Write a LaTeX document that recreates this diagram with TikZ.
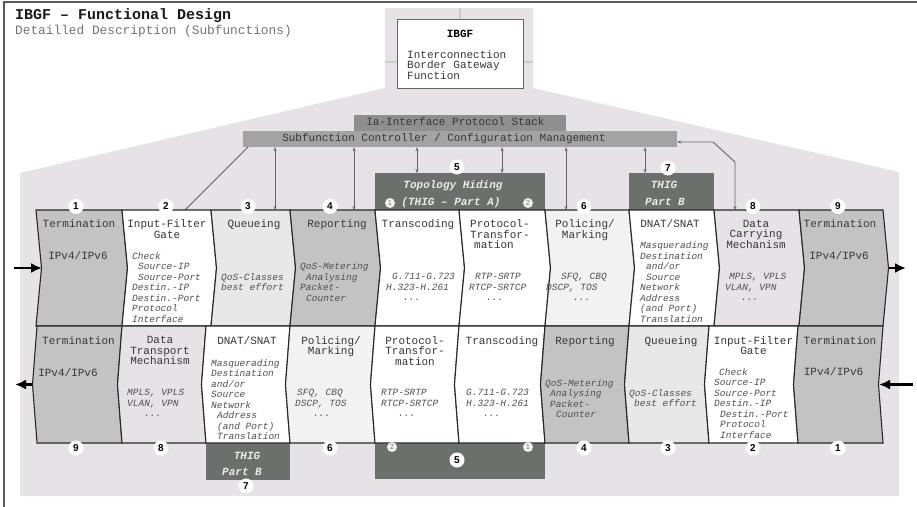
\documentclass[tikz,border=0pt]{standalone}
\usepackage{fontspec}
\setmainfont{Liberation Mono}
\newfontfamily\numf{Liberation Sans}
\usetikzlibrary{arrows.meta}
\definecolor{bgc}{RGB}{230,226,230}
\definecolor{crossc}{RGB}{205,201,205}
\definecolor{tgray}{RGB}{195,195,195}
\definecolor{qgray}{RGB}{232,232,232}
\definecolor{pgray}{RGB}{242,242,242}
\definecolor{thigc}{RGB}{108,112,108}
\definecolor{iac}{RGB}{143,143,143}
\definecolor{ctrlc}{RGB}{163,163,163}
\definecolor{linec}{RGB}{40,40,40}
\definecolor{connc}{RGB}{100,100,100}
\definecolor{txtc}{RGB}{55,55,55}
\definecolor{itcol}{RGB}{80,80,80}
\definecolor{framec}{RGB}{90,90,90}
\definecolor{boxc}{RGB}{100,100,100}
\begin{document}
\begin{tikzpicture}[x=1pt,y=-1pt,
  hd/.style={font=\fontsize{11}{10.5}\selectfont, text=txtc, align=center, inner sep=0pt, anchor=north},
  hdl/.style={hd, align=left, anchor=north west},
  itx/.style={font=\fontsize{9.5}{10.5}\selectfont\itshape, text=itcol, align=left, inner sep=0pt, anchor=north west},
  itcen/.style={itx, align=center, anchor=north},
  num/.style={circle, fill=white, inner sep=0pt, minimum size=15pt, font=\numf\bfseries\fontsize{10}{10}\selectfont},
  snum/.style={circle, fill=white!94!black, inner sep=0pt, minimum size=10pt, font=\numf\fontsize{7.5}{7.5}\selectfont, text=gray},
  thig/.style={fill=thigc, inner sep=0pt},
  thigt/.style={font=\fontsize{11}{11}\selectfont\bfseries\itshape, text=white!92!black, inner sep=0pt, anchor=base},
  conn/.style={draw=connc, line width=0.9pt},
  dconn/.style={conn, {Stealth[length=4pt,width=3pt]}-{Stealth[length=4pt,width=3pt]}},
  band/.style={draw=linec, line width=1.1pt, line join=miter},
  big/.style={line width=2.2pt, -{Latex[length=11pt,width=10pt]}},
  bartext/.style={font=\fontsize{11}{11}\selectfont, text=txtc, inner sep=0pt, anchor=base}
]
\useasboundingbox (0,0) rectangle (917,506);
% frame
\draw[framec, line width=1.3pt] (4,530) -- (4,2) -- (930,2);
% background region
\fill[bgc] (385,8) -- (533,8) -- (533,88) -- (899,172) -- (899,496) -- (20,496) -- (20,173) -- (385,88) -- cycle;
\draw[crossc, line width=2pt] (460,8) -- (460,88) (385,62) -- (533,62);
% title
\node[anchor=base west, inner sep=0pt, font=\fontsize{15}{15}\selectfont\bfseries, text=black!90] (title) at (15,19.5) {IBGF – Functional Design};
\node[anchor=base west, inner sep=0pt, font=\fontsize{12.8}{13}\selectfont, text=black!55] (subtitle) at (15,34) {Detailled Description (Subfunctions)};
% IBGF box
\node[draw=boxc, fill=white, line width=0.9pt, minimum width=126pt, minimum height=69pt, inner sep=0pt] (ibgf) at (460,53.5) {};
\node[anchor=base, inner sep=0pt, font=\fontsize{11}{11}\selectfont\bfseries] (ibgft) at (460,37) {IBGF};
\node[hdl] (ibgfd) at (407,50) {Interconnection\\Border Gateway\\Function};
% bars
\node[fill=iac, minimum width=212pt, minimum height=16pt, inner sep=0pt] (ia) at (460,123) {};
\node[bartext] (iat) at (455.5,125.7) {Ia-Interface Protocol Stack};
\node[fill=ctrlc, minimum width=434pt, minimum height=16pt, inner sep=0pt] (ctrl) at (460,139) {};
\node[bartext] (ctrlt) at (444,141) {Subfunction Controller / Configuration Management};
% THIG boxes
\node[thig, minimum width=170pt, minimum height=37pt] (thigA) at (460,191.5) {};
\node[thig, minimum width=85pt, minimum height=37pt] (thigB) at (671.5,191.5) {};
\node[thig, minimum width=84pt, minimum height=37pt] (thigBl) at (248,461.5) {};
\node[thig, minimum width=170pt, minimum height=36pt] (thigAl) at (460,461) {};
\node[thigt] (thA1) at (453,188.5) {Topology Hiding};
\node[thigt] (thA2) at (451,205) {(THIG – Part A)};
\node[thigt] (thB1) at (664,188.3) {THIG};
\node[thigt] (thB2) at (665,205) {Part B};
\node[thigt] (thBl1) at (247,459) {THIG};
\node[thigt] (thBl2) at (242,475) {Part B};
% connectors
\coordinate (c2s) at (248,147);
\coordinate (c2) at (185,210);
\coordinate (c3) at (275,210);
\coordinate (c4) at (354,210);
\coordinate (k1) at (417,173);
\coordinate (k2) at (502,173);
\coordinate (c6) at (566,210);
\coordinate (kB) at (645,173);
\coordinate (r1) at (713,142);
\coordinate (r2) at (735,162);
\coordinate (c8) at (735,210);
\draw[conn] (c2s) -- (c2);
\draw[dconn] (ctrl.south -| c3) -- (c3);
\draw[dconn] (ctrl.south -| c4) -- (c4);
\draw[dconn] (ctrl.south -| k1) -- (k1);
\draw[dconn] (ctrl.south -| k2) -- (k2);
\draw[dconn] (ctrl.south -| c6) -- (c6);
\draw[dconn] (ctrl.south -| kB) -- (kB);
\draw[dconn] (ctrl.east |- r1) -- (r1) -- (r2) -- (c8);
% upper row
\foreach \xl/\xr/\c in {36/122/tgray,122/211/white,211/290/qgray,290/375/tgray,375/459/white,459/545/white,545/629/pgray,629/714/white,714/799/bgc,799/883/tgray}
  \path[band, fill=\c] (\xl,210) -- ({\xl+5.5},268) -- (\xl,326) -- (\xr,326) -- ({\xr+5.5},268) -- (\xr,210) -- cycle;
% lower row
\foreach \xl/\xr/\c in {37/122/tgray,122/206/bgc,206/290/white,290/375/pgray,375/459/white,459/545/white,545/629/tgray,629/709/qgray,709/798/white,798/883/tgray}
  \path[band, fill=\c] (\xl,326) -- ({\xl-4.5},384.5) -- (\xl,443) -- (\xr,443) -- ({\xr-4.5},384.5) -- (\xr,326) -- cycle;
% in/out arrows
\coordinate (inU) at (14,268); \coordinate (inUe) at (42,268);
\coordinate (outU) at (889,268); \coordinate (outUe) at (906,268);
\coordinate (outL) at (32,384.5); \coordinate (outLe) at (15,384.5);
\coordinate (inL) at (913,384.5); \coordinate (inLe) at (879,384.5);
\draw[big] (inU) -- (inUe);
\draw[big] (outU) -- (outUe);
\draw[big] (outL) -- (outLe);
\draw[big] (inL) -- (inLe);
% upper headings
\node[hd] (uh1) at (79,219.5) {Termination};
\node[hd] (uv1) at (78,251.7) {IPv4/IPv6};
\node[hd] (uh2) at (167,219.5) {Input-Filter\\Gate};
\node[hd] (uh3) at (254,219.5) {Queueing};
\node[hd] (uh4) at (337,219.5) {Reporting};
\node[hd] (uh5) at (418,219.5) {Transcoding};
\node[hdl] (uh6) at (470,219.5) {Protocol-\\Transfor-\\\hspace*{4pt}mation};
\node[hd] (uh7) at (585,219.5) {Policing/\\Marking};
\node[hd] (uh8) at (670,219.5) {DNAT/SNAT};
\node[hd] (uh9) at (756,219.5) {Data\\Carrying\\Mechanism};
\node[hd] (uh10) at (840,219.5) {Termination};
\node[hd] (uv10) at (839,251.7) {IPv4/IPv6};
% upper italic texts
\node[itx] (ui2) at (132,252.3) {Check\\\hspace*{6pt}Source-IP\\\hspace*{6pt}Source-Port\\Destin.-IP\\Destin.-Port\\Protocol\\Interface};
\node[itcen] (ui3) at (252.5,273.3) {QoS-Classes\\best effort};
\node[itx] (ui4) at (300,262.7) {QoS-Metering\\\hspace*{6pt}Analysing\\Packet-\\\hspace*{6pt}Counter};
\node[itx] (ui5) at (386,273.3) {\hspace*{6pt}G.711-G.723\\H.323-H.261\\\hspace*{17pt}...};
\node[itx] (ui6) at (469,273.3) {\hspace*{6pt}RTP-SRTP\\RTCP-SRTCP\\\hspace*{17pt}...};
\node[itx] (ui7) at (546,273.3) {\hspace*{15pt}SFQ, CBQ\\DSCP, TOS\\\hspace*{27pt}...};
\node[itx] (ui8) at (640,241.7) {Masquerading\\Destination\\\hspace*{6pt}and/or\\\hspace*{6pt}Source\\Network\\Address\\(and Port)\\Translation};
\node[itx] (ui9) at (725,273.3) {\hspace*{4pt}MPLS, VPLS\\VLAN, VPN\\\hspace*{16pt}...};
% lower headings
\node[hd] (lh9) at (78.5,336) {Termination};
\node[hd] (lv9) at (68,368.3) {IPv4/IPv6};
\node[hd] (lh8) at (160,336) {Data\\Transport\\Mechanism};
\node[hd] (lh7) at (247,336) {DNAT/SNAT};
\node[hd] (lh6) at (331,336) {Policing/\\Marking};
\node[hd] (lh5b) at (415,336) {Protocol-\\Transfor-\\mation};
\node[hd] (lh5a) at (502,336) {Transcoding};
\node[hd] (lh4) at (585,336) {Reporting};
\node[hd] (lh3) at (671,336) {Queueing};
\node[hd] (lh2) at (753.5,336) {Input-Filter\\Gate};
\node[hd] (lh1) at (840,336) {Termination};
\node[hd] (lv1) at (833.5,367.3) {IPv4/IPv6};
% lower italic texts
\node[itx] (li8) at (127,389.3) {MPLS, VPLS\\VLAN, VPN\\\hspace*{17pt}...};
\node[itx] (li7) at (211,359) {Masquerading\\Destination\\and/or\\Source\\Network\\\hspace*{6pt}Address\\\hspace*{6pt}(and Port)\\\hspace*{6pt}Translation};
\node[itx] (li6) at (295,389.3) {\hspace*{2pt}SFQ, CBQ\\DSCP, TOS\\\hspace*{18pt}...};
\node[itx] (li5b) at (381,389.3) {RTP-SRTP\\RTCP-SRTCP\\\hspace*{17pt}...};
\node[itx] (li5a) at (466,389.3) {G.711-G.723\\H.323-H.261\\\hspace*{17pt}...};
\node[itx] (li4) at (545,379) {QoS-Metering\\\hspace*{5pt}Analysing\\\hspace*{5pt}Packet-\\\hspace*{11pt}Counter};
\node[itx] (li3) at (629,389.3) {QoS-Classes\\\hspace*{5pt}best effort};
\node[itx] (li2) at (714,368.3) {\hspace*{5pt}Check\\Source-IP\\Source-Port\\Destin.-IP\\\hspace*{6pt}Destin.-Port\\\hspace*{6pt}Protocol\\\hspace*{6pt}Interface};
% number circles upper
\node[num] (nu1) at (76,206.5) {1};
\node[num] (nu2) at (166,206.5) {2};
\node[num] (nu3) at (248,206.5) {3};
\node[num] (nu4) at (330,206.5) {4};
\node[num] (nu5) at (457,167) {5};
\node[num] (nu6) at (584,206.5) {6};
\node[num] (nu7) at (668,168) {7};
\node[num] (nu8) at (753,206.5) {8};
\node[num] (nu9) at (838,206.5) {9};
\node[snum] (su1) at (390,203) {1};
\node[snum] (su2) at (528,203) {2};
% number circles lower
\node[num] (nl9) at (76,448) {9};
\node[num] (nl8) at (161,448) {8};
\node[num] (nl7) at (246,486) {7};
\node[num] (nl6) at (330,448) {6};
\node[num] (nl5) at (457,460) {5};
\node[num] (nl4) at (584,448) {4};
\node[num] (nl3) at (668,448) {3};
\node[num] (nl2) at (753,448) {2};
\node[num] (nl1) at (838,448) {1};
\node[snum] (sl2) at (392,447) {2};
\node[snum] (sl1) at (528,447) {1};
\end{tikzpicture}
\end{document}
